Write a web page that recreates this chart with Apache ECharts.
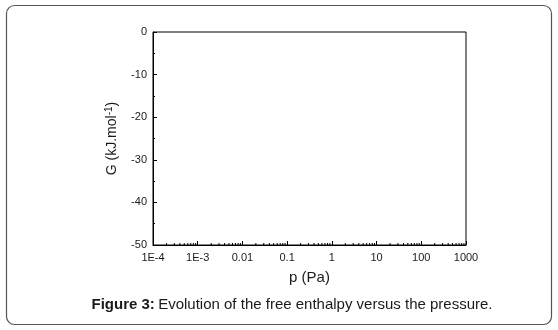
<!DOCTYPE html>
<html><head><meta charset="utf-8">
<script src="https://cdn.jsdelivr.net/npm/echarts@6/dist/echarts.min.js"></script>
<style>html,body{margin:0;padding:0;background:#fff}#c{width:558px;height:330px}</style>
</head><body><div id="c"></div>
<script>
var xTickLabels = {'0.0001':'1E-4','0.001':'1E-3','0.01':'0.01','0.1':'0.1','1':'1','10':'10','100':'100','1000':'1000'};
var xMin = 1e-4, xMax = 1000;
var yMin = -50, yMax = 0, yInterval = 10;
var seriesData = []; // the reference plot is empty
var minorTickValues = [];
for (var d = -4; d < 3; d++) { for (var k = 2; k <= 9; k++) { minorTickValues.push([k * Math.pow(10, d), yMin]); } }

var font = 'Liberation Sans, Arial, sans-serif';
var chart = echarts.init(document.getElementById('c'), null, {renderer:'canvas'});
chart.setOption({
  animation:false,
  backgroundColor:'#fff',
  graphic:[
    {type:'rect', shape:{x:6.5,y:5.5,width:545,height:319,r:8}, style:{fill:'none',stroke:'#555',lineWidth:1.2}, z:-10},
    {type:'text', x:292, y:305, style:{text:'{b|Figure 3:} {n|Evolution of the free enthalpy versus the pressure.}', align:'center', verticalAlign:'middle',
      rich:{b:{fontFamily:font,fontSize:15,fontWeight:'bold',fill:'#1a1a1a'}, n:{fontFamily:font,fontSize:15,fill:'#1a1a1a'}}}}
  ],
  grid:{left:153,right:92,top:32,bottom:85,show:true,borderColor:'#000',borderWidth:1},
  xAxis:{type:'log', logBase:10, min:xMin, max:xMax,
    name:'p (Pa)', nameLocation:'middle', nameGap:25, nameTextStyle:{fontFamily:font,fontSize:15,color:'#1a1a1a'},
    axisLine:{onZero:false,lineStyle:{color:'#000',width:1}},
    axisTick:{inside:true,length:4,lineStyle:{color:'#000'}},
    minorTick:{show:false},
    splitLine:{show:false},
    axisLabel:{margin:7,fontFamily:font,fontSize:11,color:'#1a1a1a',formatter:function(v){var key=String(+v.toPrecision(6));return xTickLabels[key]!==undefined?xTickLabels[key]:'';}}
  },
  yAxis:{type:'value', min:yMin, max:yMax, interval:yInterval,
    name:'{a|G (kJ.mol}{s|-1}{a|)}', nameLocation:'middle', nameGap:32, nameRotate:90,
    nameTextStyle:{rich:{a:{fontFamily:font,fontSize:14,color:'#1a1a1a'}, s:{fontFamily:font,fontSize:10,color:'#1a1a1a',padding:[0,0,7,0]}}},
    axisLine:{show:true,onZero:false,lineStyle:{color:'#000',width:1}},
    axisTick:{inside:true,length:4,lineStyle:{color:'#000'}},
    minorTick:{show:true,splitNumber:2,length:2,lineStyle:{color:'#000'}},
    splitLine:{show:false},
    axisLabel:{margin:6,fontFamily:font,fontSize:11,color:'#1a1a1a'}
  },
  series:[
    {type:'line', data:seriesData, silent:true},
    {type:'custom', silent:true, clip:false, data:minorTickValues,
      renderItem:function(params, api){
        var p = api.coord([api.value(0), api.value(1)]);
        return {type:'line', shape:{x1:p[0],y1:p[1],x2:p[0],y2:p[1]-2}, style:{stroke:'#000',lineWidth:1}};
      }}
  ]
});
</script></body></html>
